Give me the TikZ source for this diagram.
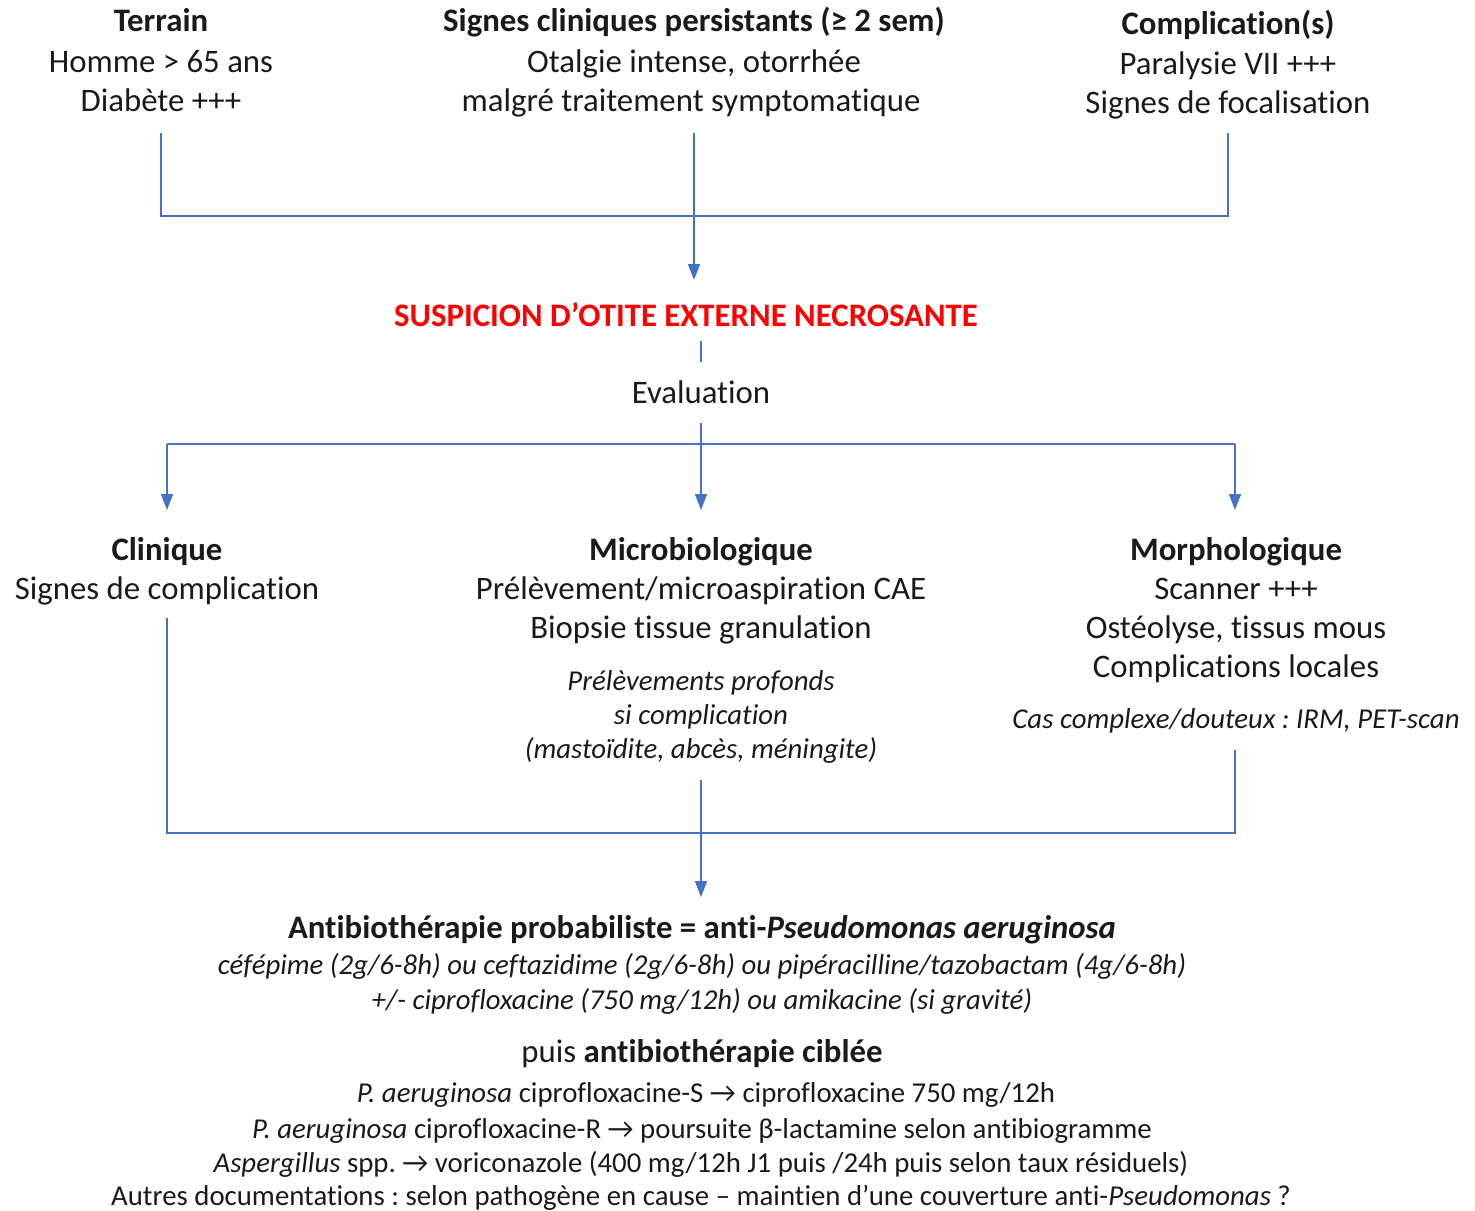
\documentclass[tikz,border=0pt]{standalone}
\usepackage{fontspec}
\setmainfont{Carlito}[Ligatures=NoCommon]
\usetikzlibrary{arrows.meta}
\definecolor{lineblue}{HTML}{4472C4}
\definecolor{alertred}{HTML}{FF0000}
\definecolor{txtgray}{HTML}{1A1A1A}
\frenchspacing
\begin{document}
\begin{tikzpicture}[x=0.5pt,y=-0.5pt,
  txt/.style={inner sep=0pt, anchor=base, text=txtgray, font=\fontsize{16.4}{20}\selectfont},
  head/.style={txt, font=\fontsize{16.4}{20}\selectfont\bfseries},
  note/.style={txt, font=\fontsize{14.4}{17}\selectfont\itshape},
  small/.style={txt, font=\fontsize{14.4}{17}\selectfont},
  conn/.style={draw=lineblue, line width=0.8pt},
  arr/.style={conn, -{Triangle[length=8pt,width=6pt]}}
]
\useasboundingbox (0,0) rectangle (1475,1210);

% top row
\node[head] (ter1) at (161,32) {Terrain};
\node[txt] (ter2) at (161,72) {Homme > 65 ans};
\node[txt] (ter3) at (161,111) {Diabète +++};

\node[head] (sig1) at (694,32) {Signes cliniques persistants (≥ 2 sem)};
\node[txt] (sig2) at (694,72) {Otalgie intense, otorrhée};
\node[txt] (sig3) at (691,111) {malgré traitement symptomatique};

\node[head] (com1) at (1228,34) {Complication(s)};
\node[txt] (com2) at (1228,74) {Paralysie VII +++};
\node[txt] (com3) at (1228,113) {Signes de focalisation};

\coordinate (terL) at (161,133);
\coordinate (sigL) at (694,133);
\coordinate (comL) at (1228,133);
\coordinate (jTop) at (694,216);
\coordinate (susTop) at (694,280);

\draw[conn] (terL) |- (jTop) -| (comL);
\draw[arr] (sigL) -- (susTop);

% suspicion
\node[head, text=alertred] (sus) at (686,326) {SUSPICION D’OTITE EXTERNE NECROSANTE};
\coordinate (susB) at (701,341);
\coordinate (evaT) at (701,362);
\draw[conn] (susB) -- (evaT);

\node[txt] (eva) at (701,403) {Evaluation};
\coordinate (evaB) at (701,423);
\coordinate (jMid) at (701,444);
\coordinate (cliT) at (167,510);
\coordinate (micT) at (701,510);
\coordinate (morT) at (1235,510);
\draw[conn] (cliT |- jMid) -- (morT |- jMid);
\draw[arr] (evaB) -- (micT);
\draw[arr] (cliT |- jMid) -- (cliT);
\draw[arr] (morT |- jMid) -- (morT);

% middle row
\node[head] (cli1) at (167,560) {Clinique};
\node[txt] (cli2) at (167,599) {Signes de complication};

\node[head] (mic1) at (701,560) {Microbiologique};
\node[txt] (mic2) at (701,599) {Prélèvement/microaspiration CAE};
\node[txt] (mic3) at (701,638) {Biopsie tissue granulation};
\node[note] (mic4) at (701,690) {Prélèvements profonds};
\node[note] (mic5) at (701,724) {si complication};
\node[note] (mic6) at (701,758) {(mastoïdite, abcès, méningite)};

\node[head] (mor1) at (1236,560) {Morphologique};
\node[txt] (mor2) at (1236,599) {Scanner +++};
\node[txt] (mor3) at (1236,638) {Ostéolyse, tissus mous};
\node[txt] (mor4) at (1236,677) {Complications locales};
\node[note] (mor5) at (1236,728) {Cas complexe/douteux : IRM, PET-scan};

\coordinate (cliB) at (167,618);
\coordinate (micB) at (701,780);
\coordinate (morB) at (1235,750);
\coordinate (jBot) at (701,833);
\coordinate (atbT) at (701,897);
\draw[conn] (cliB) |- (jBot) -| (morB);
\draw[arr] (micB) -- (atbT);

% bottom block
\node[head] (atb1) at (702,938) {Antibiothérapie probabiliste = anti-\textit{Pseudomonas aeruginosa}};
\node[note] (atb2) at (702,974) {céfépime (2g/6-8h) ou ceftazidime (2g/6-8h) ou pipéracilline/tazobactam (4g/6-8h)};
\node[note] (atb3) at (702,1009) {+/- ciprofloxacine (750 mg/12h) ou amikacine (si gravité)};

\node[txt] (cib1) at (702,1062) {puis \textbf{antibiothérapie ciblée}};
\node[small] (cib2) at (706,1102) {\textit{P. aeruginosa} ciprofloxacine-S → ciprofloxacine 750 mg/12h};
\node[small] (cib3) at (702,1138) {\textit{P. aeruginosa} ciprofloxacine-R → poursuite β-lactamine selon antibiogramme};
\node[small] (cib4) at (701,1172) {\textit{Aspergillus} spp. → voriconazole (400 mg/12h J1 puis /24h puis selon taux résiduels)};
\node[small] (cib5) at (701,1205) {Autres documentations : selon pathogène en cause – maintien d’une couverture anti-\textit{Pseudomonas} ?};
\end{tikzpicture}
\end{document}
